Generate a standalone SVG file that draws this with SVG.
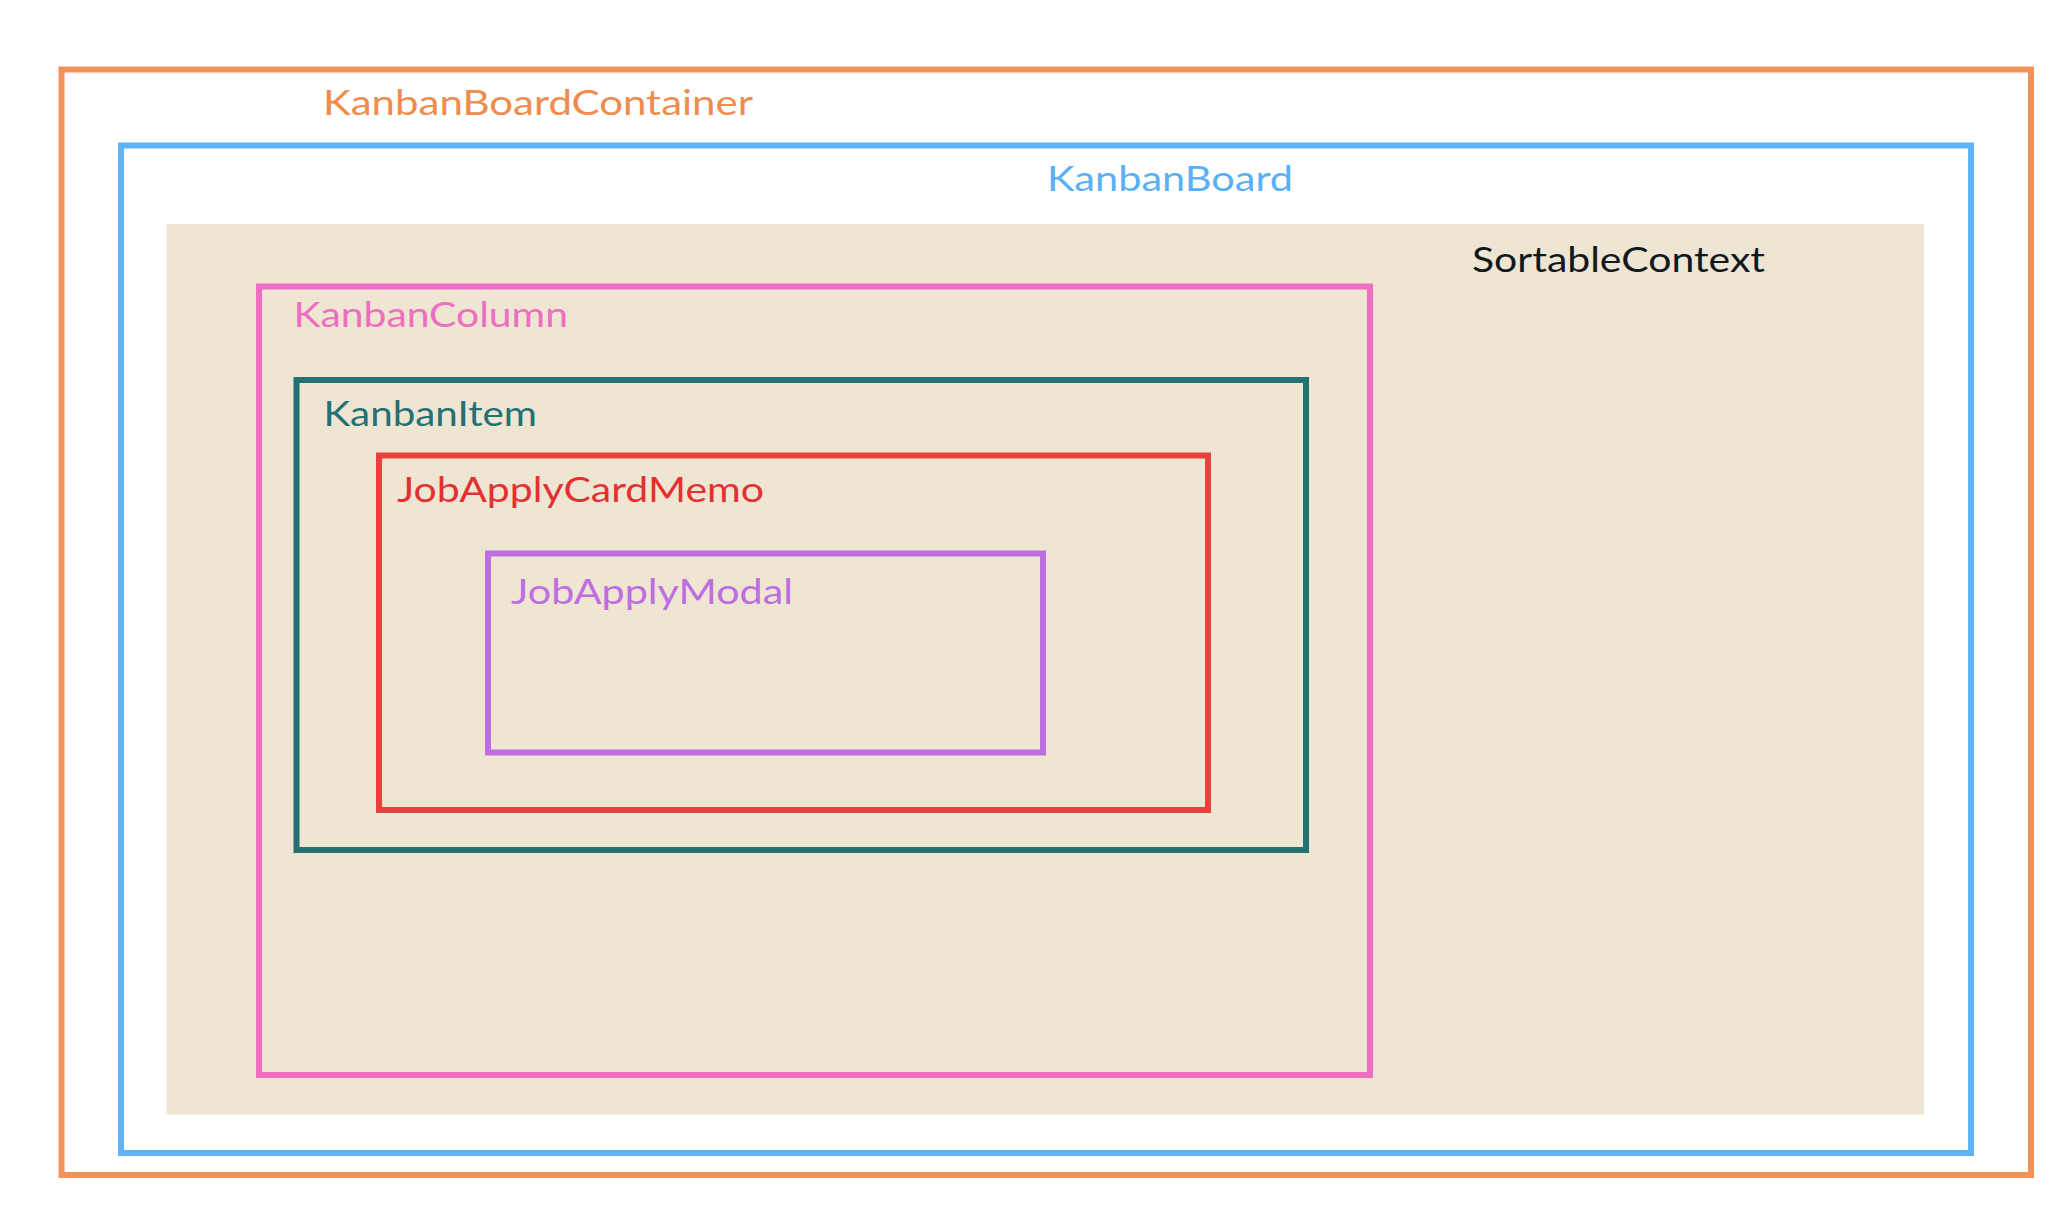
<svg xmlns="http://www.w3.org/2000/svg" width="2056" height="1214" viewBox="0 0 2056 1214">
  <style>
    .frame { fill: none; stroke-width: 6; }
    .lbl { font-family: Lato, "Noto Sans", "Liberation Sans", sans-serif; font-size: 35px; }
  </style>
  <rect x="0" y="0" width="2056" height="1214" fill="#ffffff"/>
  <g id="KanbanBoardContainer">
    <rect class="frame" x="61.5" y="69.5" width="1969.5" height="1105.5" stroke="#F0935A"/>
    <text class="lbl" x="323" y="115" fill="#F08C4E" textLength="430" lengthAdjust="spacingAndGlyphs">KanbanBoardContainer</text>
  </g>
  <g id="KanbanBoard">
    <rect class="frame" x="121" y="145.5" width="1850" height="1007.5" stroke="#5DB3F8"/>
    <text class="lbl" x="1047" y="190.5" fill="#5AB0F5" textLength="246" lengthAdjust="spacingAndGlyphs">KanbanBoard</text>
  </g>
  <g id="SortableContext">
    <rect x="166.5" y="224" width="1757.5" height="890.5" fill="#EEE5D3"/>
    <text class="lbl" x="1472" y="271.5" fill="#111820" textLength="293" lengthAdjust="spacingAndGlyphs">SortableContext</text>
  </g>
  <g id="KanbanColumn">
    <rect class="frame" x="259" y="286.5" width="1111" height="788.5" stroke="#EE6EC1"/>
    <text class="lbl" x="293.5" y="326.5" fill="#EE6EC1" textLength="274.5" lengthAdjust="spacingAndGlyphs">KanbanColumn</text>
  </g>
  <g id="KanbanItem">
    <rect class="frame" x="296.5" y="380" width="1009.5" height="470" stroke="#247073"/>
    <text class="lbl" x="323.5" y="426" fill="#247073" textLength="213.5" lengthAdjust="spacingAndGlyphs">KanbanItem</text>
  </g>
  <g id="JobApplyCardMemo">
    <rect class="frame" x="379" y="455.5" width="829" height="354.5" stroke="#E8403A"/>
    <text class="lbl" x="397" y="502" fill="#E63030" textLength="367" lengthAdjust="spacingAndGlyphs">JobApplyCardMemo</text>
  </g>
  <g id="JobApplyModal">
    <rect class="frame" x="488" y="553.5" width="555" height="199" stroke="#BE6EE0"/>
    <text class="lbl" x="511" y="604" fill="#BE6EE0" textLength="282" lengthAdjust="spacingAndGlyphs">JobApplyModal</text>
  </g>
  <g id="connectors"/>
</svg>
